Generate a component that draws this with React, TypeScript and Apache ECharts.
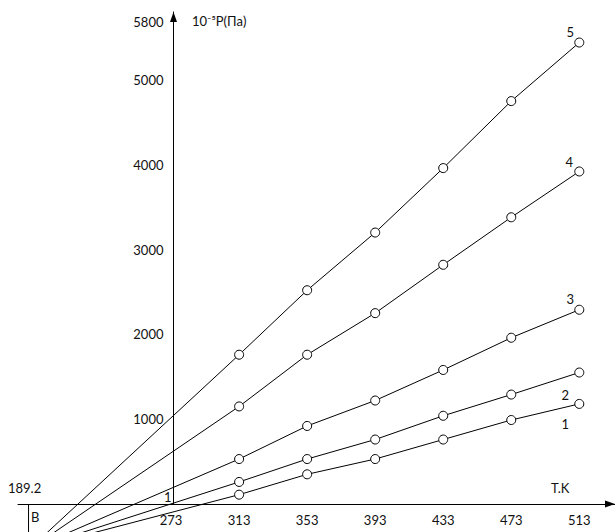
import React, { useEffect, useRef } from "react";
import * as echarts from "echarts";

// Temperatures (K) at which the pressure was plotted
const temperatures = [313, 353, 393, 433, 473, 513];
// Pressure values (10^-5 Pa) for the five isochores
const line1 = [110, 350, 530, 760, 990, 1180];
const line2 = [260, 530, 760, 1040, 1290, 1550];
const line3 = [530, 920, 1220, 1580, 1960, 2290];
const line4 = [1150, 1760, 2250, 2820, 3380, 3920];
const line5 = [1760, 2520, 3200, 3960, 4750, 5440];
const seriesNames = ["1", "2", "3", "4", "5"];
// Common convergence point B (T, P)
const pointB = [189.2, -540];
const bMarkerEnd = [189.2, -400];
// Axis ticks
const xTickLabels = [273, 313, 353, 393, 433, 473, 513];
const yTickLabels = [1000, 2000, 3000, 4000, 5000, 5800];
const xRange = [183, 534];
const yRange = [0, 5800];

const FONT = "Lato";
const TEXT = "#111";

export default function App() {
  const ref = useRef<HTMLDivElement>(null);

  useEffect(() => {
    if (!ref.current) return;
    const chart = echarts.init(ref.current, undefined, { renderer: "svg" });

    const allLines = [line1, line2, line3, line4, line5];
    const labelOffsets: number[][] = [
      [-14, 20],
      [-14, 22],
      [-9, -11],
      [-10, -9],
      [-9, -11],
    ];

    const series: any[] = allLines.map((vals, si) => ({
      type: "line",
      name: seriesNames[si],
      clip: false,
      symbol: "circle",
      symbolSize: 9,
      silent: true,
      itemStyle: { color: "#fff", borderColor: "#000", borderWidth: 1 },
      lineStyle: { color: "#000", width: 1 },
      emphasis: { disabled: true },
      z: 3,
      data: [
        { value: pointB, symbol: "none" },
        ...vals.map((v, i) =>
          i === vals.length - 1
            ? {
                value: [temperatures[i], v],
                label: {
                  show: true,
                  formatter: seriesNames[si],
                  position: "inside",
                  offset: labelOffsets[si],
                  color: TEXT,
                  fontFamily: FONT,
                  fontSize: 13,
                },
              }
            : [temperatures[i], v]
        ),
      ],
    }));

    series.push({
      type: "line",
      clip: false,
      symbol: "none",
      silent: true,
      lineStyle: { color: "#000", width: 1 },
      data: [[pointB[0], 0], bMarkerEnd],
    });

    chart.setOption({
      animation: false,
      grid: {
        left: 18,
        right: 0,
        top: 12,
        bottom: 28,
        containLabel: false,
        outerBoundsMode: "none",
      },
      xAxis: {
        type: "value",
        min: xRange[0],
        max: xRange[1],
        axisLine: {
          show: true,
          onZero: true,
          symbol: ["none", "triangle"],
          symbolSize: [7, 10],
          symbolOffset: [0, -5],
          lineStyle: { color: "#000", width: 1 },
        },
        axisTick: { show: false },
        splitLine: { show: false },
        axisLabel: {
          customValues: xTickLabels,
          margin: 9,
          color: TEXT,
          fontFamily: FONT,
          fontSize: 13,
        },
      },
      yAxis: {
        type: "value",
        min: yRange[0],
        max: yRange[1],
        position: "left",
        offset: -155.5,
        axisLine: {
          show: true,
          onZero: false,
          symbol: ["none", "triangle"],
          symbolSize: [7, 10],
          symbolOffset: [0, -5],
          lineStyle: { color: "#000", width: 1 },
        },
        axisTick: { show: false },
        splitLine: { show: false },
        axisLabel: {
          customValues: yTickLabels,
          margin: 10,
          color: TEXT,
          fontFamily: FONT,
          fontSize: 13,
          formatter: (v: number) => (v === 5800 ? "{top|5800}" : String(v)),
          rich: {
            top: {
              padding: [20, 0, 0, 0],
              color: TEXT,
              fontFamily: FONT,
              fontSize: 13,
            },
          },
        },
      },
      graphic: [
        {
          type: "text",
          x: 192,
          y: 21,
          style: {
            text: "10⁻⁵P(Па)",
            fill: TEXT,
            font: `13px ${FONT}`,
            verticalAlign: "middle",
          },
        },
        {
          type: "text",
          x: 551,
          y: 488,
          style: { text: "T.K", fill: TEXT, font: `13px ${FONT}`, verticalAlign: "middle" },
        },
        {
          type: "text",
          x: 8,
          y: 488,
          style: { text: "189.2", fill: TEXT, font: `13px ${FONT}`, verticalAlign: "middle" },
        },
        {
          type: "text",
          x: 31,
          y: 517,
          style: { text: "B", fill: TEXT, font: `13px ${FONT}`, verticalAlign: "middle" },
        },
        {
          type: "text",
          x: 164,
          y: 497,
          style: { text: "1", fill: TEXT, font: `13px ${FONT}`, verticalAlign: "middle" },
        },
      ],
      series,
    });

    return () => chart.dispose();
  }, []);

  return (
    <div
      ref={ref}
      style={{ position: "fixed", left: 0, top: 0, width: 615, height: 532, background: "#fff" }}
    />
  );
}
